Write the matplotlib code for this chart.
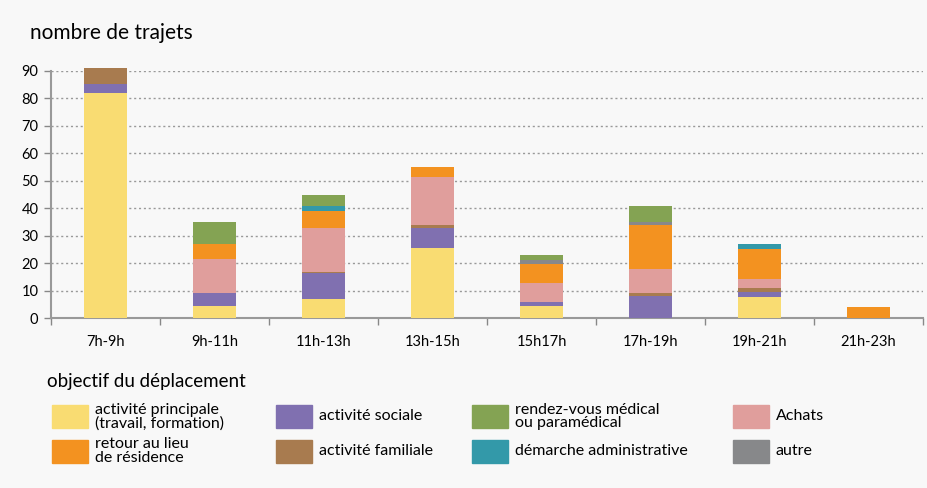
import matplotlib.pyplot as plt
from matplotlib.patches import Rectangle
import numpy as np

plt.rcParams['font.family'] = ['Lato', 'DejaVu Sans']

# time slots
slots = ["7h-9h", "9h-11h", "11h-13h", "13h-15h", "15h17h", "17h-19h", "19h-21h", "21h-23h"]

# trips per purpose, stacked bottom to top in this order
principale = [82, 4.5, 7, 25.6, 4.5, 0, 7.7, 0]
sociale = [3, 4.5, 9.2, 7, 1.3, 7.9, 1.9, 0]
familiale = [6, 0, 0.7, 1.4, 0, 1.1, 1.3, 0]
achats = [0, 12.3, 15.7, 17.2, 7.1, 9, 3.2, 0]
retour = [0, 5.7, 6.4, 3.7, 6.9, 15.9, 10.9, 4]
administrative = [0, 0, 1.8, 0, 0, 0, 2, 0]
autre = [0, 0, 0, 0, 1.2, 1, 0, 0]
medical = [0, 8.1, 3.9, 0, 2.1, 6, 0, 0]

series = [
    ("activité principale\n(travail, formation)", principale, "#f9dc72"),
    ("activité sociale", sociale, "#8070b0"),
    ("activité familiale", familiale, "#a87b4f"),
    ("Achats", achats, "#e09e9c"),
    ("retour au lieu\nde résidence", retour, "#f39220"),
    ("démarche administrative", administrative, "#3399a9"),
    ("autre", autre, "#87888a"),
    ("rendez-vous médical\nou paramédical", medical, "#84a353"),
]
colors = {name: c for name, _, c in series}

bg = "#f8f8f8"
fig = plt.figure(figsize=(9.27, 4.88), dpi=100, facecolor=bg)
ax = fig.add_axes([51 / 927, 1 - 318 / 488, 872 / 927, (318 - 70.7) / 488])
ax.set_facecolor(bg)

x = np.arange(len(slots))
bottom = np.zeros(len(slots))
for name, vals, color in series:
    vals = np.array(vals, dtype=float)
    ax.bar(x, vals, bottom=bottom, width=0.4, color=color, clip_on=False, zorder=3)
    bottom += vals

ax.set_xlim(-0.5, len(slots) - 0.5)
ax.set_ylim(0, 90)
ax.set_yticks(range(0, 91, 10))
ax.yaxis.grid(True, linestyle=(0, (1.5, 2)), color="#999999", linewidth=1)
ax.set_axisbelow(True)

ax.set_xticks(np.arange(-0.5, len(slots)), labels=[""] * (len(slots) + 1))
ax.set_xticks(x, labels=slots, minor=True)
ax.tick_params(axis="x", which="major", length=5, color="#888888", width=1)
ax.tick_params(axis="x", which="minor", length=0, pad=12, labelsize=10.5)
ax.tick_params(axis="y", length=5, color="#888888", width=1, labelsize=10.5, pad=4)

for s in ["top", "right"]:
    ax.spines[s].set_visible(False)
for s in ["left", "bottom"]:
    ax.spines[s].set_color("#999999")
    ax.spines[s].set_linewidth(1.5)

fig.text(30 / 927, 1 - 33 / 488, "nombre de trajets", fontsize=15, va="center", ha="left")
fig.text(47 / 927, 1 - 382 / 488, "objectif du déplacement", fontsize=13.5, va="center", ha="left")

# legend laid out as in the source: 2 rows x 4 columns
layout = [
    ["activité principale\n(travail, formation)", "activité sociale",
     "rendez-vous médical\nou paramédical", "Achats"],
    ["retour au lieu\nde résidence", "activité familiale",
     "démarche administrative", "autre"],
]
col_x = [52, 276, 472, 733]
row_y = [416.5, 451]
W, H = 927, 488
for r, row in enumerate(layout):
    for c, name in enumerate(row):
        px, py = col_x[c], row_y[r]
        fig.patches.append(Rectangle((px / W, 1 - (py + 11.5) / H), 36 / W, 23 / H,
                                     transform=fig.transFigure, color=colors[name]))
        fig.text((px + 43) / W, 1 - py / H, name, fontsize=11.5, va="center",
                 ha="left", linespacing=0.95)

fig.savefig("out.png", dpi=100, facecolor=bg)
